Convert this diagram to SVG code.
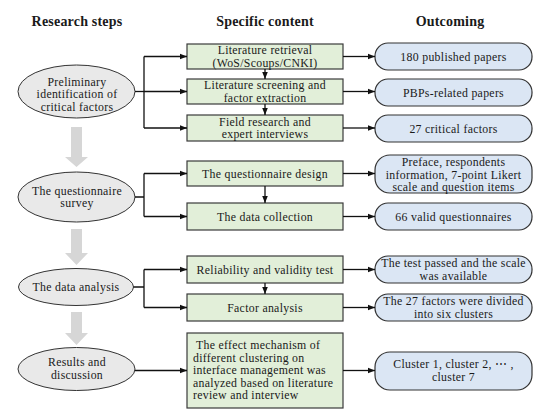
<svg xmlns="http://www.w3.org/2000/svg" width="550" height="416" viewBox="0 0 550 416">
<defs>
<style>
text{font-family:"Liberation Serif","Times New Roman",serif;fill:#1a1a1a;font-size:11.8px;text-anchor:middle;letter-spacing:0.3px}
.h{font-weight:bold;font-size:14px;letter-spacing:0.2px}
.l{text-anchor:start}
.step{fill:#e9e9e9;stroke:#333;stroke-width:1}
.box{fill:#e2efd9;stroke:#3a3a3a;stroke-width:1.2}
.out{fill:#dbe6f4;stroke:#333;stroke-width:1.2}
.ln{fill:none;stroke:#111;stroke-width:1.3}
.garr{fill:#d6d6d6}
</style>
<marker id="ah" viewBox="0 0 10 10" refX="10" refY="5" markerWidth="7" markerHeight="7" markerUnits="userSpaceOnUse" orient="auto">
<path d="M0,1 L10,5 L0,9 Z" fill="#111"/>
</marker>
</defs>
<rect width="550" height="416" fill="#fff"/>

<g id="headers">
<text class="h" x="77" y="26">Research steps</text>
<text class="h" x="265" y="26">Specific content</text>
<text class="h" x="450" y="26">Outcoming</text>
</g>

<g id="gray-arrows">
<path class="garr" d="M71,127 H82 V157 H88 L76.5,167 L65,157 H71 Z"/>
<path class="garr" d="M71,229 H82 V253 H88 L76.5,265 L65,253 H71 Z"/>
<path class="garr" d="M71,312 H82 V333 H88 L76.5,345 L65,333 H71 Z"/>
</g>

<g id="step1">
<ellipse class="step" cx="76.5" cy="91.5" rx="58.5" ry="26.5"/>
<text x="77" y="85.5">Preliminary</text>
<text x="77" y="98">identification of</text>
<text x="77" y="110.5">critical factors</text>
</g>
<g id="step2">
<ellipse class="step" cx="76.5" cy="197" rx="58.5" ry="25"/>
<text x="77" y="194.5">The questionnaire</text>
<text x="77" y="207">survey</text>
</g>
<g id="step3">
<ellipse class="step" cx="76" cy="287" rx="57.5" ry="18.5"/>
<text x="76" y="291">The data analysis</text>
</g>
<g id="step4">
<ellipse class="step" cx="76.5" cy="369" rx="58.5" ry="21.5"/>
<text x="77" y="366">Results and</text>
<text x="77" y="378.5">discussion</text>
</g>

<g id="c1">
<rect class="box" x="187" y="44" width="156" height="25"/>
<text x="265" y="54">Literature retrieval</text>
<text x="265" y="66.5">(WoS/Scoups/CNKI)</text>
</g>
<g id="c2">
<rect class="box" x="187" y="79" width="156" height="25"/>
<text x="265" y="89">Literature screening and</text>
<text x="265" y="101.5">factor extraction</text>
</g>
<g id="c3">
<rect class="box" x="187" y="115" width="156" height="26"/>
<text x="265" y="125.5">Field research and</text>
<text x="265" y="138">expert interviews</text>
</g>
<g id="c4">
<rect class="box" x="187" y="161" width="156" height="25"/>
<text x="265" y="177.5">The questionnaire design</text>
</g>
<g id="c5">
<rect class="box" x="187" y="203" width="156" height="27"/>
<text x="265" y="220.5">The data collection</text>
</g>
<g id="c6">
<rect class="box" x="187" y="256" width="156" height="27"/>
<text x="265" y="273.5">Reliability and validity test</text>
</g>
<g id="c7">
<rect class="box" x="187" y="294" width="156" height="27"/>
<text x="265" y="311.5">Factor analysis</text>
</g>
<g id="c8">
<rect class="box" x="187" y="333" width="156" height="75"/>
<text class="l" x="196" y="349">The effect mechanism of</text>
<text class="l" x="193" y="361.5">different clustering on</text>
<text class="l" x="193" y="374">interface management was</text>
<text class="l" x="193" y="386.5">analyzed based on literature</text>
<text class="l" x="193" y="399">review and interview</text>
</g>

<g id="o1">
<rect class="out" x="375" y="43" width="157" height="27" rx="13"/>
<text x="453.5" y="60.5">180 published papers</text>
</g>
<g id="o2">
<rect class="out" x="375" y="79" width="157" height="27" rx="13"/>
<text x="453.5" y="96.5">PBPs-related papers</text>
</g>
<g id="o3">
<rect class="out" x="375" y="115" width="157" height="27" rx="13"/>
<text x="453.5" y="132.5">27 critical factors</text>
</g>
<g id="o4">
<rect class="out" x="375" y="155" width="157" height="38" rx="15"/>
<text x="453.5" y="166">Preface, respondents</text>
<text x="453.5" y="178.5">information, 7-point Likert</text>
<text x="453.5" y="191">scale and question items</text>
</g>
<g id="o5">
<rect class="out" x="375" y="203" width="157" height="27" rx="13"/>
<text x="453.5" y="220.5">66 valid questionnaires</text>
</g>
<g id="o6">
<rect class="out" x="375" y="256" width="157" height="27" rx="13"/>
<text x="453.5" y="267">The test passed and the scale</text>
<text x="453.5" y="279.5">was available</text>
</g>
<g id="o7">
<rect class="out" x="375" y="294" width="157" height="27" rx="13"/>
<text x="453.5" y="305">The 27 factors were divided</text>
<text x="453.5" y="317.5">into six clusters</text>
</g>
<g id="o8">
<rect class="out" x="375" y="352" width="157" height="38" rx="15"/>
<text x="453.5" y="368">Cluster 1, cluster 2, ⋯ ,</text>
<text x="453.5" y="380.5">cluster 7</text>
</g>

<g id="connectors">
<path class="ln" d="M135,91.5 H144"/>
<path class="ln" d="M144,56.5 V128"/>
<path class="ln" d="M144,56.5 H187" marker-end="url(#ah)"/>
<path class="ln" d="M144,91.5 H187" marker-end="url(#ah)"/>
<path class="ln" d="M144,128 H187" marker-end="url(#ah)"/>
<path class="ln" d="M135,197 H144 M144,173.5 V216.5"/>
<path class="ln" d="M144,173.5 H187" marker-end="url(#ah)"/>
<path class="ln" d="M144,216.5 H187" marker-end="url(#ah)"/>
<path class="ln" d="M133.5,287 H144 M144,269.5 V307.5"/>
<path class="ln" d="M144,269.5 H187" marker-end="url(#ah)"/>
<path class="ln" d="M144,307.5 H187" marker-end="url(#ah)"/>
<path class="ln" d="M135,370.5 H187" marker-end="url(#ah)"/>
<path class="ln" d="M265,69 V79" marker-end="url(#ah)"/>
<path class="ln" d="M265,104 V115" marker-end="url(#ah)"/>
<path class="ln" d="M265,186 V203" marker-end="url(#ah)"/>
<path class="ln" d="M265,283 V294" marker-end="url(#ah)"/>
<path class="ln" d="M343,56.5 H375" marker-end="url(#ah)"/>
<path class="ln" d="M343,91.5 H375" marker-end="url(#ah)"/>
<path class="ln" d="M343,128 H375" marker-end="url(#ah)"/>
<path class="ln" d="M343,173.5 H375" marker-end="url(#ah)"/>
<path class="ln" d="M343,216.5 H375" marker-end="url(#ah)"/>
<path class="ln" d="M343,269.5 H375" marker-end="url(#ah)"/>
<path class="ln" d="M343,307.5 H375" marker-end="url(#ah)"/>
<path class="ln" d="M343,370.5 H375" marker-end="url(#ah)"/>
</g>
</svg>
